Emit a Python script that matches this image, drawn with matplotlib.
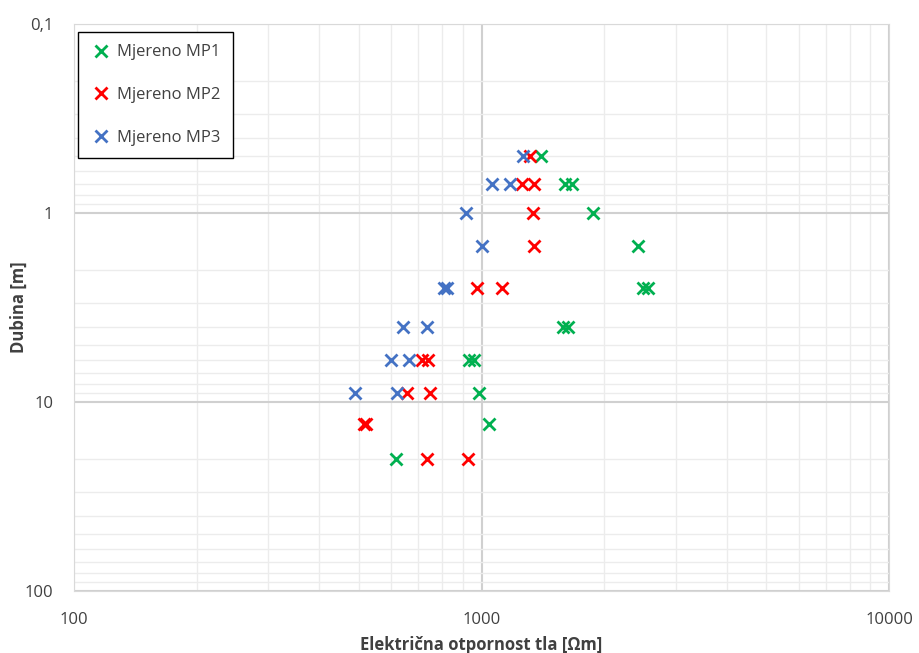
import numpy as np
import matplotlib.pyplot as plt
from matplotlib.ticker import FixedLocator, LogLocator, NullFormatter

plt.rcParams['font.family'] = ['Open Sans', 'DejaVu Sans']

# MP1 measurements (resistivity [Ohm m], depth [m])
mp1_res = [1400, 1603, 1665, 1880, 2426, 2494, 2566, 1588, 1633, 933, 960, 986, 1045, 617]
mp1_dep = [0.5, 0.7, 0.7, 1.0, 1.5, 2.5, 2.5, 4, 4, 6, 6, 9, 13, 20]

# MP2
mp2_res = [1315, 1256, 1344, 1336, 1344, 975, 1122, 713, 741, 655, 748, 515, 522, 736, 927]
mp2_dep = [0.5, 0.7, 0.7, 1.0, 1.5, 2.5, 2.5, 6, 6, 9, 9, 13, 13, 20, 20]

# MP3
mp3_res = [1262, 1059, 1173, 914, 1000, 811, 822, 641, 736, 600, 664, 490, 622]
mp3_dep = [0.5, 0.7, 0.7, 1.0, 1.5, 2.5, 2.5, 4, 4, 6, 6, 9, 9]

y_ticks = [0.1, 1, 10, 100]
y_labels = ['0,1', '1', '10', '100']
x_ticks = [100, 1000, 10000]
x_labels = ['100', '1000', '10000']

fig = plt.figure(figsize=(9.19, 6.53), dpi=100)
ax = fig.add_axes([74/919, 1 - 591/653, (889-74)/919, (591-24)/653])

ax.set_xscale('log')
ax.set_yscale('log')
ax.set_xlim(100, 10000)
ax.set_ylim(100, 0.1)

ax.grid(True, which='minor', color='#ececec', lw=1)
ax.grid(True, which='major', color='#d0d0d0', lw=1.5)
ax.set_axisbelow(True)

ms = 8.5
ax.plot(mp1_res, mp1_dep, 'x', color='#00B050', ms=ms, mew=2, ls='none', label='Mjereno MP1')
ax.plot(mp2_res, mp2_dep, 'x', color='#FF0000', ms=ms, mew=2, ls='none', label='Mjereno MP2')
ax.plot(mp3_res, mp3_dep, 'x', color='#4472C4', ms=ms, mew=2, ls='none', label='Mjereno MP3')

ax.xaxis.set_major_locator(FixedLocator(x_ticks))
ax.set_xticklabels(x_labels)
ax.yaxis.set_major_locator(FixedLocator(y_ticks))
ax.set_yticklabels(y_labels)
ax.xaxis.set_minor_locator(LogLocator(base=10, subs=np.arange(2, 10)))
ax.yaxis.set_minor_locator(LogLocator(base=10, subs=np.arange(2, 10)))
ax.xaxis.set_minor_formatter(NullFormatter())
ax.yaxis.set_minor_formatter(NullFormatter())
ax.tick_params(which='both', length=0, labelsize=12, colors='#404040')
ax.tick_params(axis='x', pad=15)
ax.tick_params(axis='y', pad=15)

for s in ax.spines.values():
    s.set_color('#d9d9d9')

ax.set_xlabel('Električna otpornost tla [Ωm]', fontsize=12, fontweight='bold', color='#404040', labelpad=6)
ax.set_ylabel('Dubina [m]', fontsize=12, fontweight='bold', color='#404040')
ax.yaxis.set_label_coords(-0.057, 0.5)

leg = ax.legend(loc='upper left', bbox_to_anchor=(0.005, 0.986), borderaxespad=0,
                fancybox=False, edgecolor='black', fontsize=12, handlelength=1.3,
                handletextpad=0.3, labelspacing=1.6, borderpad=0.75, framealpha=1)
leg.get_frame().set_linewidth(1)
for t in leg.get_texts():
    t.set_color('#404040')

fig.savefig('out.png', dpi=100)
